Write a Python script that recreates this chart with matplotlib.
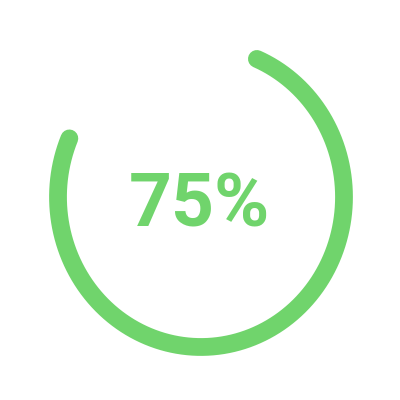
import matplotlib
matplotlib.use("Agg")
import matplotlib.pyplot as plt
import numpy as np

# progress value (percent) and label
valeur = 75
etiquette = "75%"

couleur = "#70d46c"

fig = plt.figure(figsize=(4, 4), dpi=100)
ax = fig.add_axes([0, 0, 1, 1])
ax.set_xlim(0, 400)
ax.set_ylim(400, 0)
ax.axis("off")

# arc: starts near the top, runs clockwise over valeur % of the ring
cx, cy, rx, ry = 201, 197, 143, 150
debut = 67
theta = np.radians(np.linspace(debut, debut - valeur / 100 * 360, 400))
ax.plot(cx + rx * np.cos(theta), cy - ry * np.sin(theta), color=couleur,
        lw=12.8, solid_capstyle="round")

ax.text(cx - 2, 199, etiquette, color=couleur, fontsize=54, fontweight="bold",
        family=["Roboto", "DejaVu Sans"], ha="center", va="center_baseline")

fig.savefig("out.png", dpi=100, facecolor="white")
